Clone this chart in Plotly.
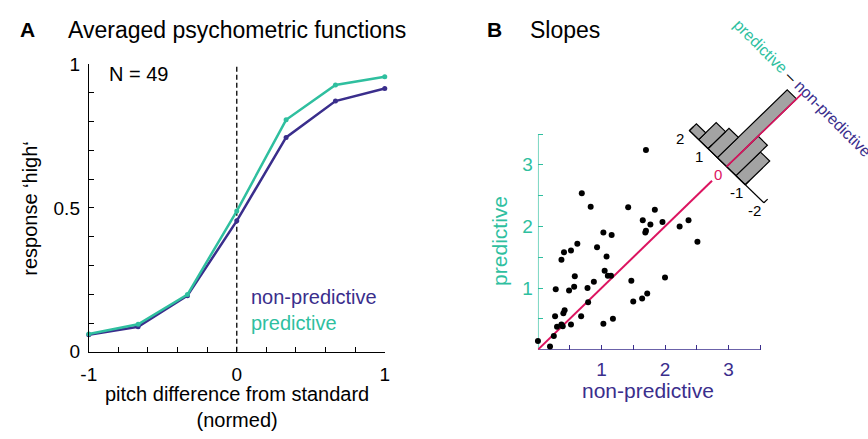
import plotly.graph_objects as go

W, H = 868, 439
FONT = "Liberation Sans, Arial, Helvetica, sans-serif"
TEAL = "#2fbf9f"
INDIGO = "#3a2e8c"
PINK = "#dc1460"
GRAY = "#a3a3a3"

# ---------------- Panel A data ----------------
pitch = [-1, -2/3, -1/3, 0, 1/3, 2/3, 1]
resp_nonpred = [0.059, 0.087, 0.195, 0.455, 0.745, 0.871, 0.915]
resp_pred = [0.062, 0.096, 0.199, 0.489, 0.806, 0.927, 0.956]
a_xtickvals = [-1, -0.8, -0.6, -0.4, -0.2, 0, 0.2, 0.4, 0.6, 0.8, 1]
a_xticktext = ["-1", "", "", "", "", "0", "", "", "", "", "1"]
a_ytickvals = [0, 0.1, 0.2, 0.3, 0.4, 0.5, 0.6, 0.7, 0.8, 0.9, 1]
a_yticktext = ["0", "", "", "", "", "0.5", "", "", "", "", "1"]
standard_x = 0

# ---------------- Panel B data ----------------
slope_nonpred = [0.00, 0.19, 0.25, 0.30, 0.37, 0.39, 0.27, 0.40, 0.42, 0.52,
                 0.68, 0.79, 1.03, 1.18, 0.28, 0.49, 0.57, 0.78, 0.58, 0.88,
                 1.05, 1.10, 1.15, 1.47, 1.50, 1.64, 1.72, 2.00, 0.37, 0.41,
                 0.52, 0.62, 0.93, 1.08, 0.83, 1.42, 1.84, 1.65, 1.77, 1.96,
                 2.23, 2.37, 2.51, 1.69, 1.70, 1.03, 1.16, 1.70, 0.69]
slope_pred = [0.14, 0.05, 0.22, 0.37, 0.41, 0.38, 0.54, 0.59, 0.64, 0.41,
              0.54, 0.77, 0.42, 0.50, 0.98, 0.96, 1.02, 1.00, 1.19, 1.10,
              1.28, 1.20, 1.20, 1.12, 0.78, 0.83, 0.91, 1.17, 1.46, 1.58,
              1.61, 1.72, 1.66, 1.51, 2.32, 2.31, 2.27, 2.10, 2.03, 2.07,
              2.00, 2.10, 1.75, 1.90, 1.93, 1.90, 1.86, 3.24, 2.54]
b_tickvals = [0.5, 1, 1.5, 2, 2.5, 3, 3.5]
b_ticktext = ["", "1", "", "2", "", "3", ""]
b_axis_max = 3.5
diag_end = 2.74
# histogram of (predictive - non-predictive)
hist_edges = [-1, -0.5, 0, 0.5, 1, 1.5, 2]
hist_counts = [7, 9, 20, 6, 5, 2]
hist_ticks = [-2, -1, 0, 1, 2]
hist_ticktext = ["-2", "-1", "0", "1", "2"]
hist_zero_len = 21.5  # in counts

# rotated histogram placement (in scatter data units)
HC = 2.97     # where the diagonal meets the histogram base
HS = 0.293    # base axis scale per unit difference (each of x, y)
HK = 0.055    # bar length per count (each of x, y)


def base_pt(d):
    return HC - HS * d, HC + HS * d


def px(xp):
    return xp / W


def py(yp):
    return 1 - yp / H


fig = go.Figure()

# ---- Panel A traces ----
fig.add_trace(go.Scatter(x=[standard_x, standard_x], y=[0, 1], mode="lines",
                         line=dict(color="black", width=1.3, dash="5px,3px"),
                         xaxis="x", yaxis="y", hoverinfo="skip", showlegend=False))
fig.add_trace(go.Scatter(x=pitch, y=resp_nonpred, mode="lines+markers",
                         line=dict(color=INDIGO, width=2.5),
                         marker=dict(color=INDIGO, size=5),
                         cliponaxis=False, xaxis="x", yaxis="y", showlegend=False))
fig.add_trace(go.Scatter(x=pitch, y=resp_pred, mode="lines+markers",
                         line=dict(color=TEAL, width=2.5),
                         marker=dict(color=TEAL, size=5),
                         cliponaxis=False, xaxis="x", yaxis="y", showlegend=False))

# ---- Panel B traces ----
fig.add_trace(go.Scatter(x=[0, b_axis_max], y=[0, 0], mode="lines",
                         line=dict(color=INDIGO, width=1.3), cliponaxis=False,
                         xaxis="x2", yaxis="y2", hoverinfo="skip", showlegend=False))
fig.add_trace(go.Scatter(x=[0, 0], y=[0, b_axis_max], mode="lines",
                         line=dict(color=TEAL, width=1.3), cliponaxis=False,
                         xaxis="x2", yaxis="y2", hoverinfo="skip", showlegend=False))
fig.add_trace(go.Scatter(x=[0, diag_end], y=[0, diag_end], mode="lines",
                         line=dict(color=PINK, width=2), cliponaxis=False,
                         xaxis="x2", yaxis="y2", hoverinfo="skip", showlegend=False))

# histogram bars
for i, n in enumerate(hist_counts):
    a, b = hist_edges[i], hist_edges[i + 1]
    ax_, ay_ = base_pt(a)
    bx_, by_ = base_pt(b)
    L = HK * n
    xs = [ax_, bx_, bx_ + L, ax_ + L, ax_]
    ys = [ay_, by_, by_ + L, ay_ + L, ay_]
    fig.add_trace(go.Scatter(x=xs, y=ys, mode="lines", fill="toself",
                             fillcolor=GRAY, line=dict(color="black", width=1.2),
                             xaxis="x2", yaxis="y2", hoverinfo="skip",
                             showlegend=False))

# histogram base axis
b0 = base_pt(hist_ticks[-1])
b1 = base_pt(hist_ticks[0])
fig.add_trace(go.Scatter(x=[b0[0], b1[0]], y=[b0[1], b1[1]], mode="lines",
                         line=dict(color="black", width=1.2),
                         xaxis="x2", yaxis="y2", hoverinfo="skip", showlegend=False))
tx, ty = [], []
for t in hist_ticks:
    p = base_pt(t)
    tx += [p[0], p[0] + 0.06, None]
    ty += [p[1], p[1] + 0.06, None]
fig.add_trace(go.Scatter(x=tx, y=ty, mode="lines",
                         line=dict(color="black", width=1.2),
                         xaxis="x2", yaxis="y2", hoverinfo="skip", showlegend=False))
# zero line of histogram
z0 = base_pt(0)
fig.add_trace(go.Scatter(x=[z0[0], z0[0] + HK * hist_zero_len],
                         y=[z0[1], z0[1] + HK * hist_zero_len], mode="lines",
                         line=dict(color=PINK, width=1.6),
                         xaxis="x2", yaxis="y2", hoverinfo="skip", showlegend=False))

# scatter points
fig.add_trace(go.Scatter(x=slope_nonpred, y=slope_pred, mode="markers",
                         marker=dict(color="black", size=6), cliponaxis=False,
                         xaxis="x2", yaxis="y2", showlegend=False))

ann = []


def note(text, x, y, size, color="black", anchor="center", angle=0,
         xref="paper", yref="paper", **kw):
    ann.append(dict(text=text, x=x, y=y, xref=xref, yref=yref, xanchor=anchor,
                    yanchor="middle", textangle=angle, showarrow=False,
                    font=dict(size=size, color=color), **kw))


# panel titles
note("<b>A</b>", px(20), py(21), 21)
note("Averaged psychometric functions", px(59), py(21), 23, anchor="left")
note("<b>B</b>", px(494), py(21), 21)
note("Slopes", px(528), py(21), 23, anchor="left")
# panel A texts
note("N = 49", px(101), py(67), 20, anchor="left")
note("non-predictive", px(245), py(301), 20, INDIGO, anchor="left")
note("predictive", px(245), py(329), 20, TEAL, anchor="left")
note("response ‘high‘", px(22), py(208), 20, angle=-90)
note("pitch difference from standard<br>(normed)", px(232), py(417), 20,
     borderpad=0)
# panel B texts
note("predictive", px(499), py(243), 21, TEAL, angle=-90)
note("non-predictive", px(650), py(400), 21, INDIGO)
for t, lab in zip(hist_ticks, hist_ticktext):
    p = base_pt(t)
    note(lab, p[0], p[1], 15, PINK if t == 0 else "black", xref="x2", yref="y2",
         xshift=-9, yshift=-8)
note(f'<span style="color:{TEAL}">predictive</span> – '
     f'<span style="color:{INDIGO}">non-predictive</span>',
     4.17, 4.24, 16, angle=45, xref="x2", yref="y2")

axis_common = dict(showgrid=False, zeroline=False, ticks="inside", ticklen=5,
                   tickwidth=1, tickfont=dict(size=19))

fig.update_layout(
    width=W, height=H, autosize=False,
    margin=dict(l=0, r=0, t=0, b=0),
    paper_bgcolor="white", plot_bgcolor="white",
    font=dict(family=FONT, color="black"),
    showlegend=False,
    xaxis=dict(domain=[px(82), px(382.5)], range=[-1, 1], anchor="y",
               showline=True, linecolor="black", linewidth=1,
               tickcolor="black", tickvals=a_xtickvals, ticktext=a_xticktext,
               ticklabelstandoff=5, **axis_common),
    yaxis=dict(domain=[py(359), py(56.7)], range=[0, 1], anchor="x",
               showline=True, linecolor="black", linewidth=1,
               tickcolor="black", tickvals=a_ytickvals, ticktext=a_yticktext,
               ticklabelstandoff=4, **axis_common),
    xaxis2=dict(domain=[px(538), px(538 + 64.5 * 5)], range=[0, 5], anchor="y2",
                showline=False, tickcolor=INDIGO, tickvals=b_tickvals,
                ticktext=b_ticktext, ticklabelstandoff=6,
                **{**axis_common, "tickfont": dict(size=19, color=INDIGO)}),
    yaxis2=dict(domain=[py(356.7), py(356.7 - 64.7 * 5)], range=[0, 5], anchor="x2",
                showline=False, tickcolor=TEAL, tickvals=b_tickvals,
                ticktext=b_ticktext, ticklabelstandoff=4,
                **{**axis_common, "tickfont": dict(size=19, color=TEAL)}),
    annotations=ann,
)

fig.write_html("out.html")
